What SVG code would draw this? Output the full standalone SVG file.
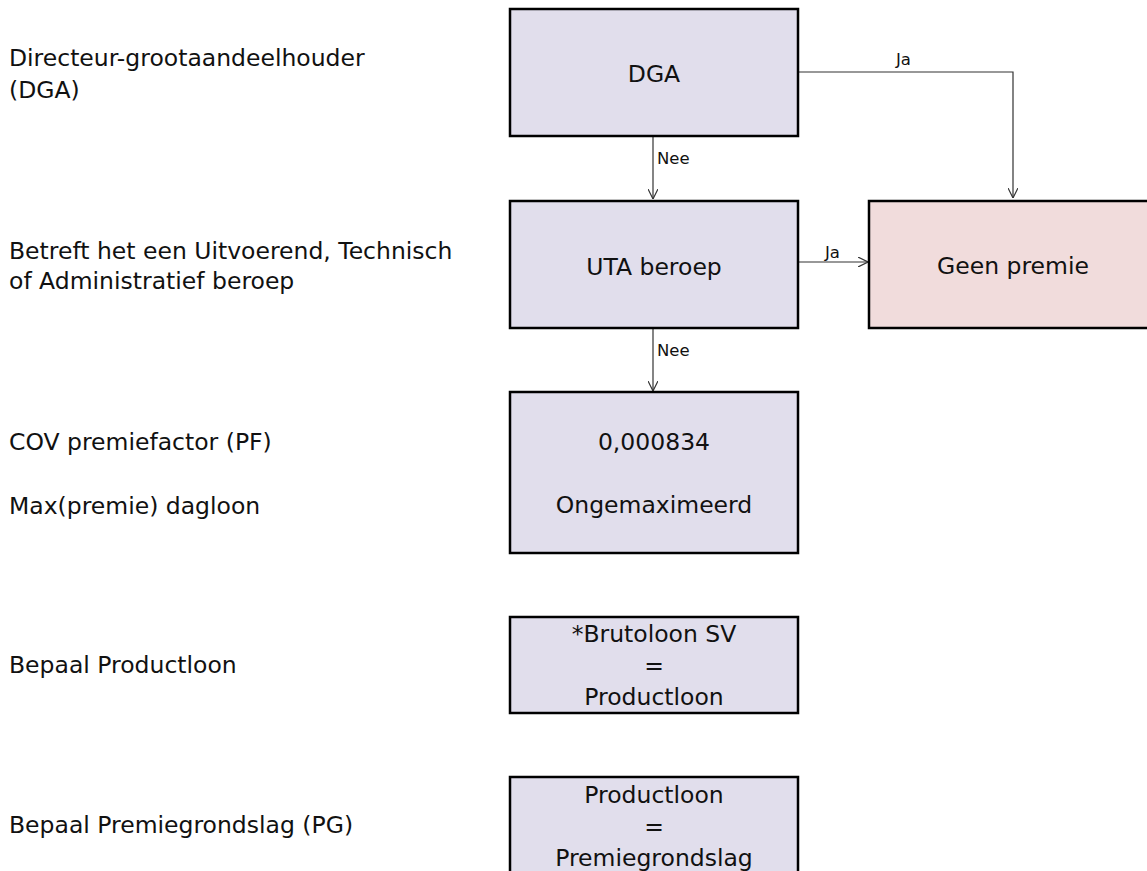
<svg xmlns="http://www.w3.org/2000/svg" width="1147" height="871" viewBox="0 0 1147 871">
<defs>
<style>
text{font-family:"DejaVu Sans","Verdana",sans-serif;fill:#111}
.lbl{font-size:23.5px}
.box{font-size:23.5px;text-anchor:middle}
.small{font-size:16.5px}
.n{fill:#e1deec;stroke:#000;stroke-width:2.5}
.p{fill:#f1dcdc;stroke:#000;stroke-width:2.5}
.c{fill:none;stroke:#333;stroke-width:1.2}
</style>
<marker id="ah" viewBox="0 0 10 10" refX="10" refY="5" markerWidth="10" markerHeight="10" markerUnits="userSpaceOnUse" orient="auto">
<path d="M0,0 L10,5 L0,10" fill="none" stroke="#333" stroke-width="1.2"/>
</marker>
</defs>
<rect width="1147" height="871" fill="#fff"/>
<g id="labels">
<text class="lbl" x="9" y="66">Directeur-grootaandeelhouder</text>
<text class="lbl" x="9" y="98">(DGA)</text>
<text class="lbl" x="9" y="259">Betreft het een Uitvoerend, Technisch</text>
<text class="lbl" x="9" y="289">of Administratief beroep</text>
<text class="lbl" x="9" y="450">COV premiefactor (PF)</text>
<text class="lbl" x="9" y="514">Max(premie) dagloon</text>
<text class="lbl" x="9" y="673">Bepaal Productloon</text>
<text class="lbl" x="9" y="833">Bepaal Premiegrondslag (PG)</text>
</g>
<g id="connectors">
<path class="c" d="M798,72 H1013 V198" marker-end="url(#ah)"/>
<text class="small" x="896" y="65">Ja</text>
<path class="c" d="M653,136 V199" marker-end="url(#ah)"/>
<text class="small" x="657" y="164">Nee</text>
<path class="c" d="M798,262 H868" marker-end="url(#ah)"/>
<text class="small" x="825" y="258">Ja</text>
<path class="c" d="M653,328 V391" marker-end="url(#ah)"/>
<text class="small" x="657" y="356">Nee</text>
</g>
<g id="node-dga">
<rect class="n" x="510" y="9" width="288" height="127"/>
<text class="box" x="654" y="82">DGA</text>
</g>
<g id="node-uta">
<rect class="n" x="510" y="201" width="288" height="127"/>
<text class="box" x="654" y="275">UTA beroep</text>
</g>
<g id="node-geen">
<rect class="p" x="869" y="201" width="290" height="127"/>
<text class="box" x="1013" y="274">Geen premie</text>
</g>
<g id="node-pf">
<rect class="n" x="510" y="392" width="288" height="161"/>
<text class="box" x="654" y="450">0,000834</text>
<text class="box" x="654" y="513">Ongemaximeerd</text>
</g>
<g id="node-productloon">
<rect class="n" x="510" y="617" width="288" height="96"/>
<text class="box" x="654" y="642">*Brutoloon SV</text>
<text class="box" x="654" y="674">=</text>
<text class="box" x="654" y="705">Productloon</text>
</g>
<g id="node-pg">
<rect class="n" x="510" y="777" width="288" height="110"/>
<text class="box" x="654" y="803">Productloon</text>
<text class="box" x="654" y="835">=</text>
<text class="box" x="654" y="866">Premiegrondslag</text>
</g>
</svg>
